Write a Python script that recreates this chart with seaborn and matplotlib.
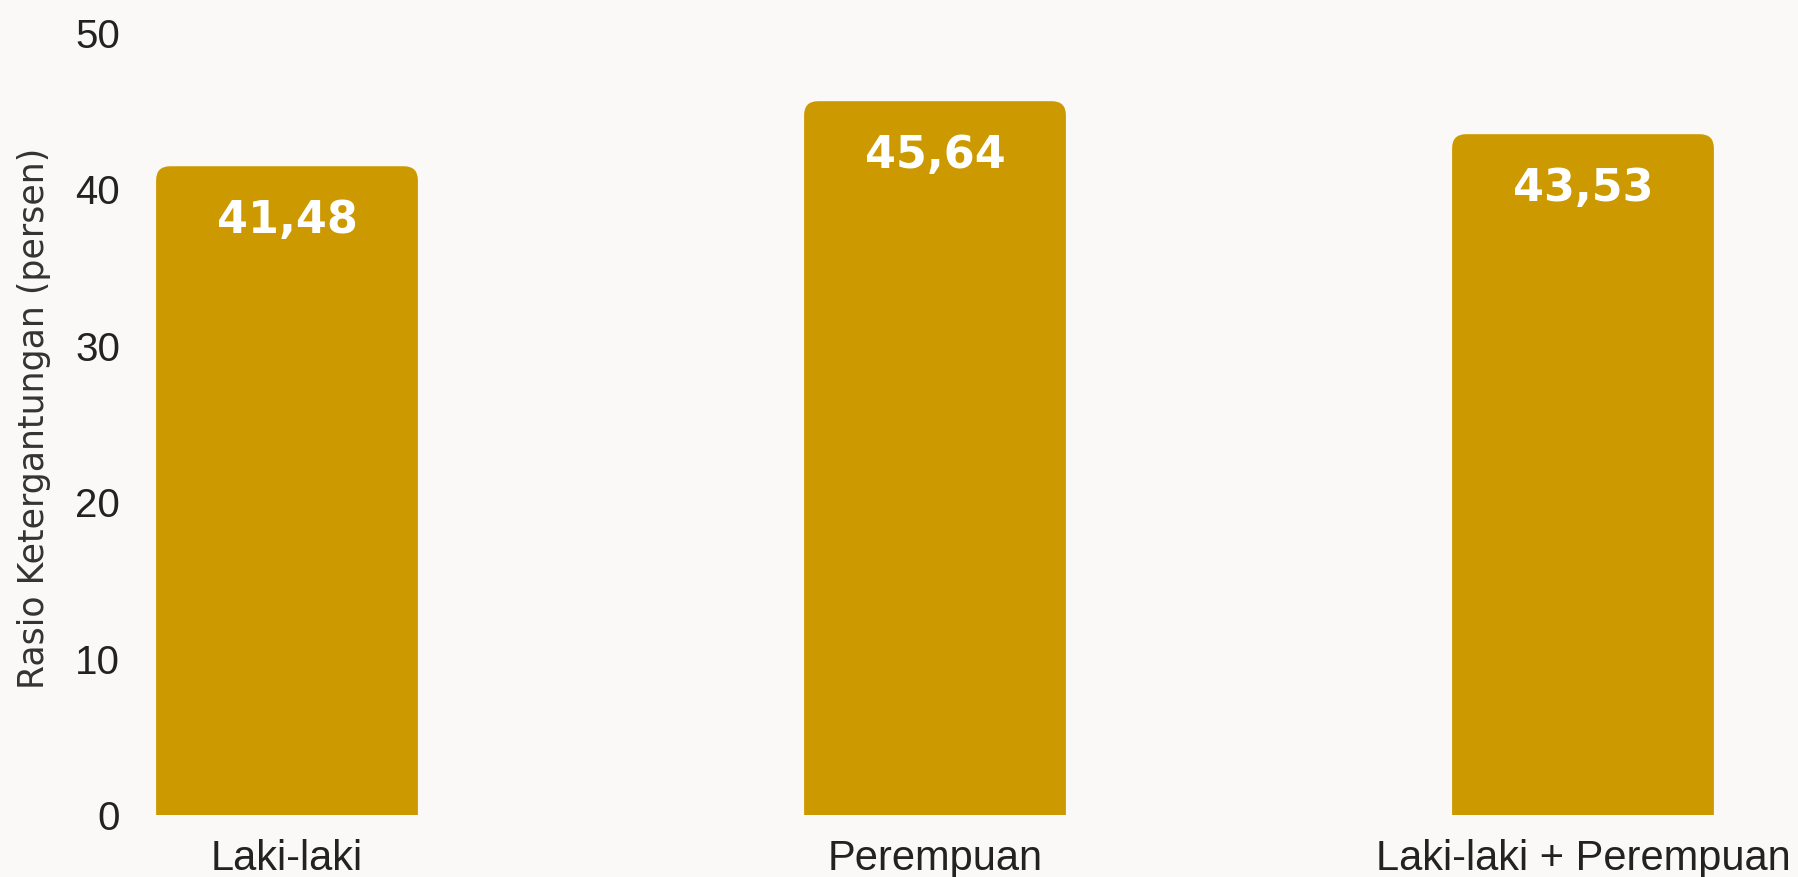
import matplotlib
matplotlib.use("Agg")
import matplotlib.pyplot as plt
from matplotlib.patches import FancyBboxPatch
import seaborn as sns
import pandas as pd

# Data
categories = ["Laki-laki", "Perempuan", "Laki-laki + Perempuan"]
values = [41.48, 45.64, 43.53]
value_labels = ["41,48", "45,64", "43,53"]
y_ticks = [0, 10, 20, 30, 40, 50]
y_title = "Rasio Ketergantungan (persen)"

BG = "#faf9f7"
BAR = "#cc9900"
TEXT = "#222222"

sns.set_theme(style="white")
plt.rcParams["font.family"] = ["Liberation Sans", "DejaVu Sans"]

W, H, DPI = 1798, 877, 100
fig = plt.figure(figsize=(W / DPI, H / DPI), dpi=DPI, facecolor=BG)
left_px, right_px, bottom_px, top_px = 130, 1798, 815, 33
ax = fig.add_axes([left_px / W, 1 - bottom_px / H,
                   (right_px - left_px) / W, (bottom_px - top_px) / H])
ax.set_facecolor(BG)

df = pd.DataFrame({"kategori": categories, "rasio": values})
sns.barplot(data=df, x="kategori", y="rasio", color=BAR, width=0.404,
            saturation=1, ax=ax)

ax.set_ylim(0, 50)
ax.set_xlim(-0.2423, 2.3318)
ax.set_yticks(y_ticks)
ax.set_xlabel("")
ax.set_ylabel("")
for s in ax.spines.values():
    s.set_visible(False)
ax.grid(False)
ax.tick_params(axis="y", length=0, pad=7, labelsize=29, labelcolor=TEXT)
ax.tick_params(axis="x", length=0, pad=17, labelsize=30, labelcolor=TEXT)

# Rounded top corners: replace each bar with a rounded box whose lower
# corners fall below the axis and are clipped away.
xr = ax.get_xlim()[1] - ax.get_xlim()[0]
yr = ax.get_ylim()[1] - ax.get_ylim()[0]
ax_w_px = right_px - left_px
ax_h_px = bottom_px - top_px
aspect = (yr / ax_h_px) / (xr / ax_w_px)
radius = 14 * xr / ax_w_px
bars = list(ax.patches)
for p in bars:
    x, y0 = p.get_x(), p.get_y()
    w, h = p.get_width(), p.get_height()
    p.remove()
    ext = 3.0
    fb = FancyBboxPatch((x, y0 - ext), w, h + ext,
                        boxstyle=f"round,pad=0,rounding_size={radius}",
                        mutation_aspect=aspect, facecolor=BAR,
                        edgecolor="none", linewidth=0, clip_on=True)
    ax.add_patch(fb)
    fb.set_clip_path(ax.patch)

for i, (v, lab) in enumerate(zip(values, value_labels)):
    ax.annotate(lab, (i, v), xytext=(0, -39), textcoords="offset points",
                ha="center", va="center", color="white", fontsize=32,
                fontweight="bold", family=["DejaVu Sans"])

fig.text(34 / W, 1 - 418 / H, y_title, rotation=90, ha="center", va="center",
         fontsize=25, color="#333333", family=["DejaVu Sans"])

fig.savefig("out.png", dpi=DPI, facecolor=BG)
